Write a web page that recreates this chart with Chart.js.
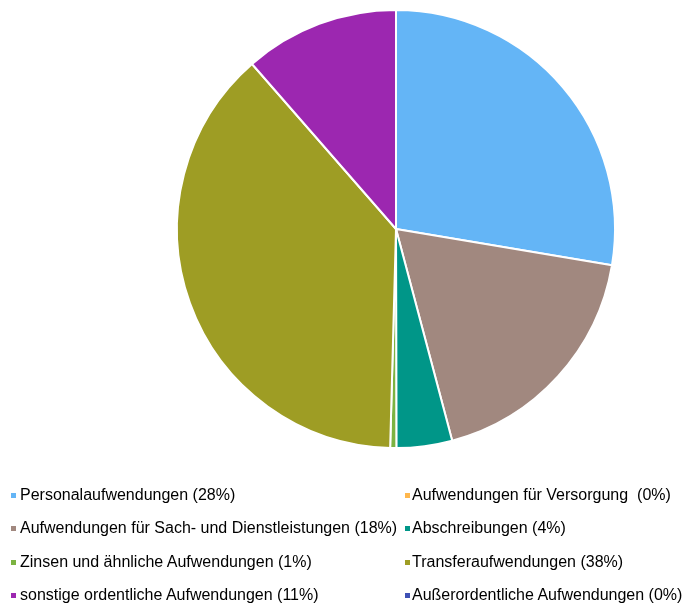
<!DOCTYPE html>
<html>
<head>
<meta charset="utf-8">
<script src="https://cdn.jsdelivr.net/npm/chart.js@4/dist/chart.umd.min.js"></script>
<style>
  html, body { margin: 0; padding: 0; background: #fff; }
  #wrap { position: relative; width: 688px; height: 606px; overflow: hidden; }
  #chartBox { position: absolute; left: 0; top: 0; width: 688px; height: 458px; }
  #legend { position: absolute; left: 0; top: 0; width: 688px; height: 606px; pointer-events: none;
            font-family: "Liberation Sans", Arial, sans-serif; font-size: 16px; color: #000; }
  .item { position: absolute; height: 20px; line-height: 20px; white-space: pre; }
  .box { position: absolute; top: 8px; width: 5px; height: 5px; }
  .txt { position: absolute; top: 0; }
</style>
</head>
<body>
<div id="wrap">
  <div id="chartBox"><canvas id="c"></canvas></div>
  <div id="legend"></div>
</div>
<script>
const categories = [
  "Personalaufwendungen (28%)",
  "Aufwendungen für Versorgung  (0%)",
  "Aufwendungen für Sach- und Dienstleistungen (18%)",
  "Abschreibungen (4%)",
  "Zinsen und ähnliche Aufwendungen (1%)",
  "Transferaufwendungen (38%)",
  "sonstige ordentliche Aufwendungen (11%)",
  "Außerordentliche Aufwendungen (0%)"
];
const values = [27.6, 0, 18.2, 4.1, 0.45, 38.1, 11.4, 0];
const colors = ["#64B5F6", "#FFB74D", "#A1887F", "#009688", "#7CB342", "#9E9D24", "#9C27B0", "#3F51B5"];

const chart = new Chart(document.getElementById('c'), {
  type: 'pie',
  data: {
    labels: categories,
    datasets: [{
      data: values,
      backgroundColor: colors,
      borderColor: '#ffffff',
      borderWidth: 2
    }]
  },
  options: {
    responsive: true,
    maintainAspectRatio: false,
    animation: false,
    layout: { padding: { top: 9, bottom: 9, left: 104, right: 0 } },
    plugins: { legend: { display: false }, tooltip: { enabled: false } }
  }
});

// HTML legend built from the chart's own label generator
const legendEl = document.getElementById('legend');
const rowsY = [495, 528, 562, 595];
const boxX = [11, 405];
const textX = [20, 412];
const items = chart.options.plugins.legend.labels.generateLabels(chart);
items.forEach((it, i) => {
  const row = Math.floor(i / 2), col = i % 2;
  const d = document.createElement('div');
  d.className = 'item';
  d.style.left = '0px';
  d.style.top = (rowsY[row] - 10) + 'px';
  const b = document.createElement('span');
  b.className = 'box';
  b.style.left = boxX[col] + 'px';
  b.style.background = it.fillStyle;
  const t = document.createElement('span');
  t.className = 'txt';
  t.style.left = textX[col] + 'px';
  t.textContent = it.text;
  d.appendChild(b); d.appendChild(t);
  legendEl.appendChild(d);
});
</script>
</body>
</html>
